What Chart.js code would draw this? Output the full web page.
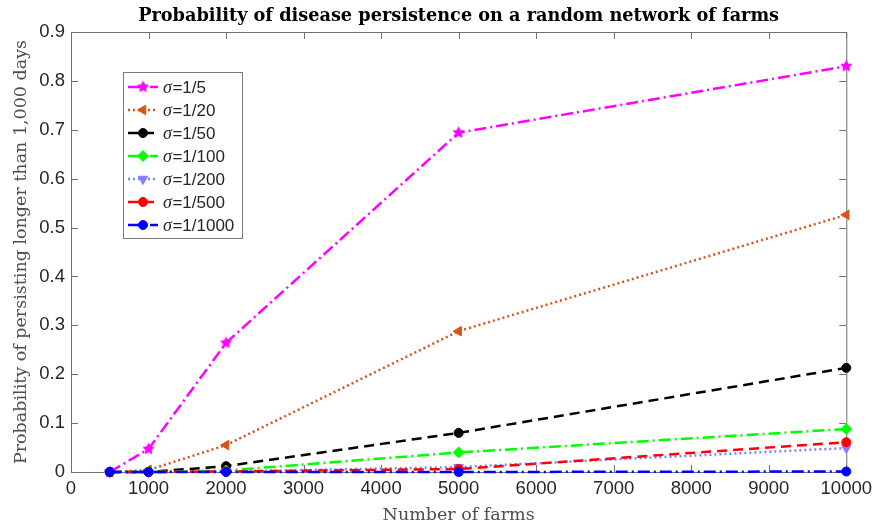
<!DOCTYPE html>
<html><head><meta charset="utf-8">
<script src="https://cdn.jsdelivr.net/npm/chart.js@4"></script>
<style>html,body{margin:0;padding:0;background:#fff}</style>
</head><body>
<canvas id="c" width="878" height="531"></canvas>
<script>
// ---- data ----
const farms = [500, 1000, 2000, 5000, 10000];
const sigmaLabels = ['1/5', '1/20', '1/50', '1/100', '1/200', '1/500', '1/1000'];
const pSigma5    = [0, 0.047, 0.264, 0.694, 0.830];
const pSigma20   = [0, 0.004, 0.055, 0.288, 0.526];
const pSigma50   = [0, 0.000, 0.012, 0.080, 0.213];
const pSigma100  = [0, 0.000, 0.003, 0.040, 0.088];
const pSigma200  = [0, 0.000, 0.001, 0.010, 0.049];
const pSigma500  = [0, 0.000, 0.001, 0.006, 0.061];
const pSigma1000 = [0, 0.000, 0.000, 0.000, 0.001];
const xTickValues = [0, 1000, 2000, 3000, 4000, 5000, 6000, 7000, 8000, 9000, 10000];
const xTickLabels = ['0', '1000', '2000', '3000', '4000', '5000', '6000', '7000', '8000', '9000', '10000'];
const yTickValues = [0, 0.1, 0.2, 0.3, 0.4, 0.5, 0.6, 0.7, 0.8, 0.9];
const yTickLabels = ['0', '0.1', '0.2', '0.3', '0.4', '0.5', '0.6', '0.7', '0.8', '0.9'];
const titleText = 'Probability of disease persistence on a random network of farms';
const xTitle = 'Number of farms';
const yTitle = 'Probability of persisting longer than 1,000 days';

const seriesValues = [pSigma5, pSigma20, pSigma50, pSigma100, pSigma200, pSigma500, pSigma1000];

function starCanvas(color, r) {
  const s = Math.ceil(r * 2 + 2);
  const c = document.createElement('canvas');
  c.width = c.height = s;
  const g = c.getContext('2d');
  g.fillStyle = color;
  g.beginPath();
  for (let i = 0; i < 10; i++) {
    const rad = i % 2 ? r * 0.5 : r;
    const a = -Math.PI / 2 + i * Math.PI / 5;
    g.lineTo(s / 2 + rad * Math.cos(a), s / 2 + rad * Math.sin(a));
  }
  g.closePath();
  g.fill();
  return c;
}

const styles = [
  {color: '#FF00FF', dash: [12, 4, 2, 4], width: 2.5, point: starCanvas('#FF00FF', 6.5), radius: 6, rot: 0},
  {color: '#D95319', dash: [2, 3], width: 2.5, point: 'triangle', radius: 5.5, rot: -90},
  {color: '#000000', dash: [10, 6], width: 2.5, point: 'circle', radius: 4.5, rot: 0},
  {color: '#00FF00', dash: [12, 4, 2, 4], width: 2.5, point: 'rectRot', radius: 5.5, rot: 0},
  {color: '#8080FF', dash: [2, 3], width: 2.5, point: 'triangle', radius: 5.5, rot: 180},
  {color: '#FF0000', dash: [10, 6], width: 2.5, point: 'circle', radius: 4.5, rot: 0},
  {color: '#0000FF', dash: [12, 4, 2, 4], width: 2.5, point: 'circle', radius: 4.5, rot: 0},
];

const datasets = seriesValues.map((vals, i) => ({
  label: 'σ=' + sigmaLabels[i],
  data: farms.map((f, j) => ({x: f, y: vals[j]})),
  borderColor: styles[i].color,
  backgroundColor: styles[i].color,
  borderWidth: styles[i].width,
  borderDash: styles[i].dash,
  pointStyle: styles[i].point,
  pointRadius: styles[i].radius,
  pointRotation: styles[i].rot,
  pointBorderWidth: 1,
  pointBackgroundColor: styles[i].color,
  pointBorderColor: styles[i].color,
  tension: 0,
  fill: false,
  clip: false,
  order: seriesValues.length - i,
}));

const AXIS = '#707070';

const boxPlugin = {
  id: 'box',
  beforeDatasetsDraw(chart) {
    const {ctx, chartArea: a, scales: {x, y}} = chart;
    ctx.save();
    ctx.strokeStyle = AXIS;
    ctx.lineWidth = 1;
    ctx.setLineDash([]);
    ctx.strokeRect(a.left + 0.5, a.top + 0.5, a.right - a.left, a.bottom - a.top);
    const L = 7;
    ctx.beginPath();
    xTickValues.forEach(v => {
      const px = Math.round(x.getPixelForValue(v)) + 0.5;
      ctx.moveTo(px, a.bottom); ctx.lineTo(px, a.bottom - L);
      ctx.moveTo(px, a.top); ctx.lineTo(px, a.top + L);
    });
    yTickValues.forEach(v => {
      const py = Math.round(y.getPixelForValue(v)) + 0.5;
      ctx.moveTo(a.left, py); ctx.lineTo(a.left + L, py);
      ctx.moveTo(a.right, py); ctx.lineTo(a.right - L, py);
    });
    ctx.stroke();
    ctx.restore();
  },
  afterDraw(chart) {
    const {ctx, chartArea: a} = chart;
    ctx.save();
    ctx.fillStyle = '#000';
    ctx.font = 'bold 17.7px "DejaVu Serif"';
    ctx.textAlign = 'center';
    ctx.textBaseline = 'alphabetic';
    ctx.fillText(titleText, (a.left + a.right) / 2, 20.5);
    ctx.restore();
  }
};

const legendPlugin = {
  id: 'customLegend',
  afterDatasetsDraw(chart) {
    const {ctx} = chart;
    ctx.save();
    const bx = 123.5, by = 72.5, bw = 119, bh = 166;
    ctx.fillStyle = '#fff';
    ctx.fillRect(bx, by, bw, bh);
    ctx.strokeStyle = '#7a7a7a';
    ctx.lineWidth = 1;
    ctx.setLineDash([]);
    ctx.strokeRect(bx, by, bw, bh);
    chart.data.datasets.forEach((ds, i) => {
      const yy = 87 + i * 23;
      ctx.strokeStyle = ds.borderColor;
      ctx.lineWidth = ds.borderWidth;
      ctx.setLineDash(ds.borderDash);
      ctx.beginPath();
      ctx.moveTo(128, yy); ctx.lineTo(158, yy);
      ctx.stroke();
      ctx.setLineDash([]);
      ctx.fillStyle = ds.borderColor;
      ctx.strokeStyle = ds.borderColor;
      ctx.lineWidth = 1;
      Chart.helpers.drawPoint(ctx, {pointStyle: ds.pointStyle, radius: ds.pointRadius, rotation: ds.pointRotation, borderWidth: 1}, 143, yy);
      ctx.fillStyle = '#262626';
      ctx.textBaseline = 'middle';
      ctx.textAlign = 'left';
      ctx.font = 'italic 18px "Liberation Serif"';
      ctx.fillText('σ', 163, yy + 1);
      const w = ctx.measureText('σ').width;
      ctx.font = '17px "Liberation Sans"';
      ctx.fillText('=' + sigmaLabels[i], 163 + w + 0.5, yy + 1);
    });
    ctx.restore();
  }
};

new Chart(document.getElementById('c'), {
  type: 'line',
  data: {datasets},
  options: {
    responsive: false,
    animation: false,
    devicePixelRatio: 1,
    layout: {padding: {top: 32, right: 31, bottom: 0, left: 0}},
    plugins: {legend: {display: false}, title: {display: false}, tooltip: {enabled: false}},
    scales: {
      x: {
        type: 'linear', min: 0, max: 10000,
        afterBuildTicks: s => { s.ticks = xTickValues.map(v => ({value: v})); },
        afterFit: s => { s.height = 59; },
        grid: {display: false, drawTicks: false},
        border: {display: false},
        ticks: {
          padding: 6, color: '#262626', font: {family: '"Liberation Sans"', size: 18.5},
          maxRotation: 0, autoSkip: false,
          callback: (v, i) => xTickLabels[i]
        },
        title: {display: true, text: xTitle, color: '#4d4d4d', font: {family: '"DejaVu Serif"', size: 17.5}, padding: {top: 0, bottom: 5}}
      },
      y: {
        type: 'linear', min: 0, max: 0.9,
        afterBuildTicks: s => { s.ticks = yTickValues.map(v => ({value: v})); },
        afterFit: s => { s.width = 71; },
        grid: {display: false, drawTicks: false},
        border: {display: false},
        ticks: {
          padding: 6, color: '#262626', font: {family: '"Liberation Sans"', size: 18.5},
          autoSkip: false,
          callback: (v, i) => yTickLabels[i]
        },
        title: {display: true, text: yTitle, color: '#4d4d4d', font: {family: '"DejaVu Serif"', size: 17.5}, padding: {top: 11, bottom: 0}}
      }
    }
  },
  plugins: [boxPlugin, legendPlugin]
});
</script>
</body></html>
